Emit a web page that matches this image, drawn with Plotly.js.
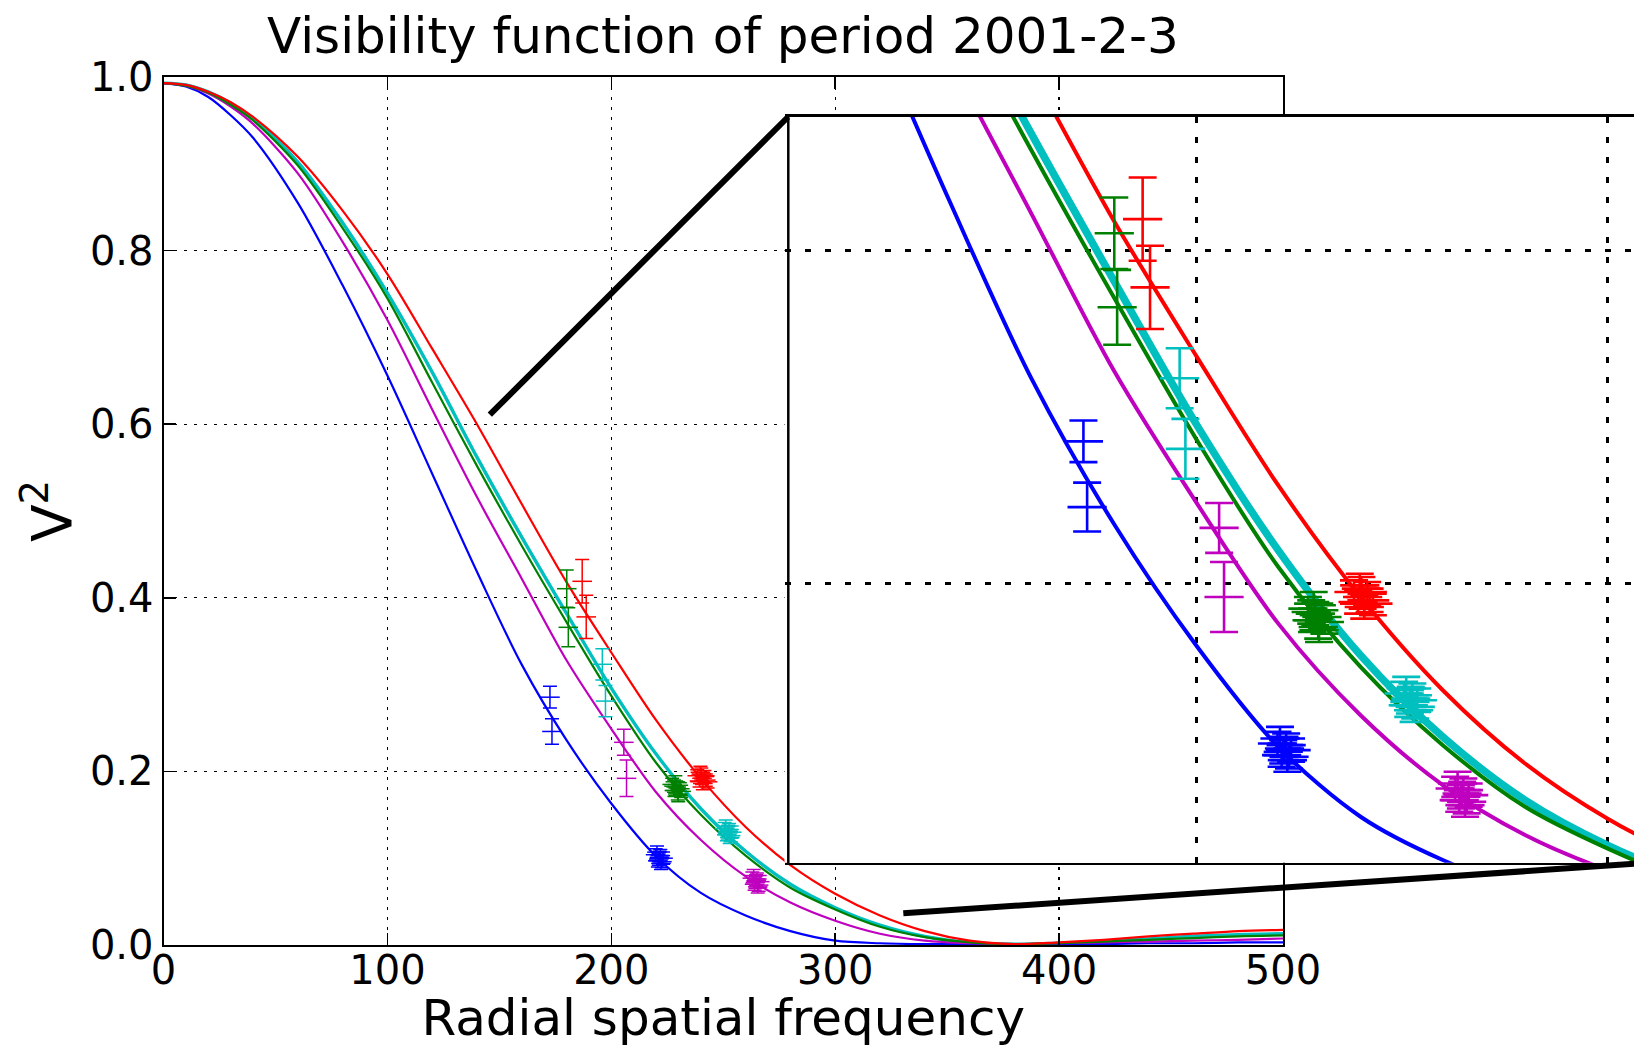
<!DOCTYPE html>
<html>
<head>
<meta charset="utf-8">
<script src="https://cdn.plot.ly/plotly-3.0.1.min.js"></script>
<style>
  html, body { margin: 0; padding: 0; background: #ffffff; }
  #chart { width: 1634px; height: 1047px; }
</style>
</head>
<body>
<div id="chart"></div>
<script>
// ---------- data ----------
const freq = [0, 10, 20, 30, 40, 60, 80, 100, 120, 140, 160, 180, 200, 220, 240, 260, 280, 300, 320, 340, 360, 380, 400, 420, 440, 460, 480, 500];

const modelBlue    = [0.993, 0.989, 0.977, 0.956, 0.930, 0.855, 0.760, 0.656, 0.543, 0.430, 0.323, 0.236, 0.163, 0.102, 0.060, 0.034, 0.016, 0.005, 0.002, 0.001, 0.001, 0.001, 0.001, 0.001, 0.002, 0.002, 0.003, 0.003];
const modelMagenta = [0.993, 0.990, 0.981, 0.966, 0.946, 0.889, 0.810, 0.720, 0.617, 0.516, 0.422, 0.328, 0.249, 0.176, 0.121, 0.079, 0.049, 0.028, 0.013, 0.005, 0.002, 0.001, 0.002, 0.003, 0.004, 0.005, 0.006, 0.0075];
const modelGreen   = [0.993, 0.990, 0.982, 0.968, 0.950, 0.898, 0.826, 0.745, 0.648, 0.552, 0.460, 0.372, 0.287, 0.210, 0.150, 0.103, 0.066, 0.041, 0.021, 0.009, 0.003, 0.001, 0.002, 0.004, 0.006, 0.008, 0.010, 0.011];
const modelCyan    = [0.993, 0.991, 0.983, 0.970, 0.952, 0.902, 0.832, 0.751, 0.660, 0.562, 0.470, 0.382, 0.296, 0.220, 0.157, 0.108, 0.070, 0.043, 0.023, 0.010, 0.003, 0.001, 0.002, 0.004, 0.007, 0.010, 0.012, 0.013];
const modelRed     = [0.993, 0.991, 0.983, 0.971, 0.954, 0.908, 0.846, 0.773, 0.687, 0.600, 0.508, 0.418, 0.337, 0.259, 0.192, 0.136, 0.092, 0.059, 0.034, 0.016, 0.005, 0.001, 0.003, 0.006, 0.010, 0.013, 0.016, 0.0175];

// individual measurements (with errors)
const blueX = [172.6, 173.5],   blueY = [0.2855, 0.246],  blueErr = [0.0125, 0.0147];
const magX  = [205.6, 206.8],   magY  = [0.2335, 0.192],  magErr  = [0.015, 0.021];
const greenX = [180.1, 180.8],  greenY = [0.4105, 0.366], greenErr = [0.0215, 0.0225];
const cyanX = [196.0, 197.4],   cyanY = [0.3234, 0.281],  cyanErr = [0.018, 0.018];
const redX  = [187.0, 188.8],   redY  = [0.419, 0.378],   redErr  = [0.025, 0.025];

// dense clusters of measurements
const blueCX = [219.8, 220.8, 221.5, 222.2, 223.1, 220.4, 222.6, 221.2, 221.9];
const blueCY = [0.104, 0.097, 0.101, 0.094, 0.100, 0.107, 0.096, 0.099, 0.103];
const magCX  = [263.0, 264.0, 264.7, 265.4, 266.3, 263.6, 265.8, 264.4, 265.0];
const magCY  = [0.077, 0.070, 0.074, 0.067, 0.073, 0.080, 0.069, 0.072, 0.076];
const greenCX = [227.2, 228.2, 229.0, 229.7, 230.6, 228.6, 229.9, 231.2, 228.0];
const greenCY = [0.185, 0.178, 0.182, 0.174, 0.180, 0.188, 0.172, 0.177, 0.183];
const cyanCX = [250.6, 251.6, 252.2, 252.9, 253.8, 251.1, 253.3, 252.0, 252.6];
const cyanCY = [0.134, 0.127, 0.131, 0.124, 0.130, 0.137, 0.126, 0.129, 0.133];
const redCX  = [238.4, 239.4, 240.2, 240.9, 241.6, 242.2, 243.0, 240.5, 239.8];
const redCY  = [0.195, 0.189, 0.197, 0.186, 0.194, 0.190, 0.188, 0.192, 0.199];
const clusterErr = [0.007, 0.007, 0.007, 0.007, 0.007, 0.007, 0.007, 0.007, 0.007];

const xTicks = [0, 100, 200, 300, 400, 500];
const yTicks = [0.0, 0.2, 0.4, 0.6, 0.8, 1.0];
const yTickText = ['0.0', '0.2', '0.4', '0.6', '0.8', '1.0'];

// ---------- figure geometry (pixels) ----------
const W = 1634, H = 1047;
const px = v => v / W;
const py = v => 1 - v / H;

const series = [
  {name: 'cyan',    color: '#00bfbf', model: modelCyan,    x: cyanX,  y: cyanY,  e: cyanErr,  cx: cyanCX,  cy: cyanCY,  lw: 3.4, lwi: 7.5},
  {name: 'blue',    color: '#0000ff', model: modelBlue,    x: blueX,  y: blueY,  e: blueErr,  cx: blueCX,  cy: blueCY,  lw: 2.2, lwi: 4},
  {name: 'magenta', color: '#bf00bf', model: modelMagenta, x: magX,   y: magY,   e: magErr,   cx: magCX,   cy: magCY,   lw: 2.2, lwi: 4},
  {name: 'green',   color: '#008000', model: modelGreen,   x: greenX, y: greenY, e: greenErr, cx: greenCX, cy: greenCY, lw: 2.2, lwi: 4},
  {name: 'red',     color: '#ff0000', model: modelRed,     x: redX,   y: redY,   e: redErr,   cx: redCX,   cy: redCY,   lw: 2.2, lwi: 4}
];

const traces = [];
[['x', 'y', false], ['x2', 'y2', true]].forEach(([xa, ya, inset]) => {
  series.forEach(s => {
    traces.push({
      type: 'scatter', mode: 'lines', x: freq, y: s.model,
      xaxis: xa, yaxis: ya, showlegend: false, hoverinfo: 'skip',
      line: {color: s.color, width: inset ? s.lwi : s.lw, shape: 'spline', smoothing: 0.9}
    });
  });
  series.forEach(s => {
    traces.push({
      type: 'scatter', mode: 'markers',
      x: s.x.concat(s.cx), y: s.y.concat(s.cy),
      xaxis: xa, yaxis: ya, showlegend: false, hoverinfo: 'skip',
      error_y: {type: 'data', array: s.e.concat(clusterErr), visible: true,
                color: s.color, thickness: inset ? 2.6 : 1.5, width: inset ? 14 : 7},
      marker: {symbol: 'line-ew', size: inset ? 28 : 14, color: s.color,
               line: {color: s.color, width: inset ? 2.6 : 1.5}}
    });
  });
});

const font = 'DejaVu Sans, Liberation Sans, sans-serif';

const layout = {
  width: W, height: H,
  margin: {l: 0, r: 0, t: 0, b: 0, pad: 0},
  paper_bgcolor: '#ffffff', plot_bgcolor: '#ffffff',
  font: {family: font, color: '#000000'},
  showlegend: false,
  title: {text: 'Visibility function of period 2001-2-3', font: {family: font, size: 50, color: '#000'},
          xref: 'paper', x: px(723), xanchor: 'center', yref: 'container', y: py(35.5), yanchor: 'middle'},
  xaxis: {
    domain: [px(163.5), px(1283)], range: [0, 500], anchor: 'y',
    tickmode: 'array', tickvals: xTicks, ticktext: xTicks.map(String),
    ticks: 'inside', ticklen: 12, tickwidth: 1.5, tickcolor: '#000',
    showline: true, linecolor: '#000', linewidth: 2, mirror: 'ticks',
    showgrid: true, gridcolor: '#000', gridwidth: 1.4, griddash: '3px,7px',
    zeroline: false, automargin: false, ticklabelstandoff: -11,
    tickfont: {family: font, size: 40, color: '#000'},
    title: {text: 'Radial spatial frequency', font: {family: font, size: 50, color: '#000'}, standoff: 14}
  },
  yaxis: {
    domain: [py(945), py(77)], range: [0, 1], anchor: 'x',
    tickmode: 'array', tickvals: yTicks, ticktext: yTickText,
    ticks: 'inside', ticklen: 12, tickwidth: 1.5, tickcolor: '#000',
    showline: true, linecolor: '#000', linewidth: 2, mirror: 'ticks',
    showgrid: true, gridcolor: '#000', gridwidth: 1.4, griddash: '3px,7px',
    zeroline: false, automargin: false,
    tickfont: {family: font, size: 40, color: '#000'},
    title: {text: 'V<sup>2</sup>', font: {family: font, size: 55, color: '#000'}, standoff: 1}
  },
  xaxis2: {
    domain: [px(784.5), 1], range: [99.9, 306.5], anchor: 'y2',
    tickmode: 'array', tickvals: [100, 200, 300], showticklabels: false, ticks: '',
    showline: true, linecolor: '#000', linewidth: 2.5, mirror: true,
    showgrid: true, gridcolor: '#000', gridwidth: 3, griddash: '6px,14px',
    zeroline: false, automargin: false
  },
  yaxis2: {
    domain: [py(862.7), py(116.7)], range: [0.0324, 0.4805], anchor: 'x2',
    tickmode: 'array', tickvals: [0.2, 0.4], showticklabels: false, ticks: '',
    showline: false, mirror: false,
    showgrid: true, gridcolor: '#000', gridwidth: 3, griddash: '6px,14px',
    zeroline: false, automargin: false
  },
  shapes: [
    // left frame edge of the magnified view
    {type: 'line', xref: 'paper', yref: 'paper', x0: px(788.3), y0: py(864), x1: px(788.3), y1: py(115.5),
     line: {color: '#000', width: 2.5}, layer: 'above'},
    // connector lines from the main plot to the magnified view
    {type: 'line', xref: 'paper', yref: 'paper', x0: px(489.8), y0: py(414.7), x1: px(788), y1: py(117),
     line: {color: '#000', width: 6}, layer: 'above'},
    {type: 'line', xref: 'paper', yref: 'paper', x0: px(903.3), y0: py(913.3), x1: px(1640), y1: py(863.4),
     line: {color: '#000', width: 6}, layer: 'above'}
  ]
};

Plotly.newPlot('chart', traces, layout, {staticPlot: true, displayModeBar: false});
</script>
</body>
</html>
